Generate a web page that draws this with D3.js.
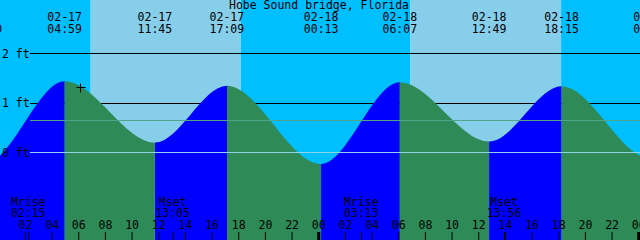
<!DOCTYPE html>
<html>
<head>
<meta charset="utf-8">
<script src="https://cdn.jsdelivr.net/npm/d3@7"></script>
<style>
  body { margin: 0; background: #fff; }
  svg { display: block; }
  text { font-family: "DejaVu Sans Mono", monospace; font-size: 11.5px; fill: #000; }
</style>
</head>
<body>
<div id="chart"></div>
<script>
// tide extremes (high / low); first and last lie off the chart
const tideTimes = ["02-16 16:50", "02-16 23:00", "02-17 04:59", "02-17 11:45", "02-17 17:09",
                   "02-18 00:13", "02-18 06:07", "02-18 12:49", "02-18 18:15", "02-19 00:55", "02-19 07:10"];
const tideLevels = [1.33, -0.22, 1.44, 0.20, 1.35, -0.23, 1.42, 0.22, 1.34, -0.12, 1.40];

const sunTimes = ["02-17 06:56", "02-17 18:12", "02-18 06:55", "02-18 18:13"]; // rise, set, rise, set
const moonTimes = ["02-17 02:15", "02-17 13:05", "02-18 03:13", "02-18 13:56"];
const moonNames = ["Mrise", "Mset", "Mrise", "Mset"];

const levelTicks = [0, 1, 2];
const meanLevel = 0.65;
const nowTime = "02-17 06:12";
const nowLevel = 1.31;

const title = "Hobe Sound bridge, Florida";

const W = 640, H = 240;
const parse = d3.timeParse("%m-%d %H:%M");
const fmtDate = d3.timeFormat("%m-%d");
const fmtTime = d3.timeFormat("%H:%M");

const start = parse("02-17 00:08");
const end = d3.timeHour.offset(start, 48);

const x = d3.scaleTime().domain([start, end]).range([0, W]);
const y = d3.scaleLinear().domain([0, 2]).range([152.5, 53.5]);
const crisp = v => Math.floor(v) + 0.5;

const tides = tideTimes.map((t, i) => ({ t: parse(t), v: tideLevels[i] }));

const svg = d3.select("#chart").append("svg")
  .attr("width", W)
  .attr("height", H);

const bg = svg.append("g");
const grid = svg.append("g");
const water = svg.append("g");
const over = svg.append("g");

// day / night background
const sun = sunTimes.map(parse);
const bounds = [start, ...sun, end];
for (let i = 0; i < bounds.length - 1; i++) {
  bg.append("rect")
    .attr("x", x(bounds[i]))
    .attr("y", 0)
    .attr("width", x(bounds[i + 1]) - x(bounds[i]))
    .attr("height", H)
    .attr("fill", i % 2 === 0 ? "#00bfff" : "#87ceeb");
}

// level lines behind the water
const lineX0 = 30;
grid.selectAll("line")
  .data(levelTicks.filter(d => d !== 0))
  .enter().append("line")
    .attr("x1", lineX0).attr("x2", W)
    .attr("y1", d => crisp(y(d))).attr("y2", d => crisp(y(d)))
    .attr("stroke", "#000")
    .attr("stroke-width", 1);

// tide curve, rising = blue, falling = green
const area = d3.area()
  .x(d => x(d.t))
  .y0(H)
  .y1(d => y(d.v))
  .curve(d3.curveMonotoneX);

const defs = svg.append("defs");
for (let i = 0; i < tides.length - 1; i++) {
  const a = tides[i], b = tides[i + 1];
  defs.append("clipPath").attr("id", "seg" + i)
    .append("rect")
      .attr("x", x(a.t))
      .attr("y", 0)
      .attr("width", x(b.t) - x(a.t))
      .attr("height", H);
  water.append("path")
    .datum(tides)
    .attr("clip-path", `url(#seg${i})`)
    .attr("d", area)
    .attr("fill", b.v > a.v ? "#0000ff" : "#2e8b57");
}

// datum and mean lines on top
over.append("line")
  .attr("x1", lineX0).attr("x2", W)
  .attr("y1", crisp(y(0))).attr("y2", crisp(y(0)))
  .attr("stroke", "#8fd3e8");
over.append("line")
  .attr("x1", lineX0).attr("x2", W)
  .attr("y1", crisp(y(meanLevel))).attr("y2", crisp(y(meanLevel)))
  .attr("stroke", "#4fa48a");

// level labels
over.selectAll(".lvlLabel")
  .data(levelTicks)
  .enter().append("text")
    .attr("x", 2)
    .attr("y", d => y(d) + 4)
    .text(d => d + " ft");

// title
over.append("text")
  .attr("x", 319)
  .attr("y", 9)
  .attr("text-anchor", "middle")
  .text(title);

// tide event labels
const ev = over.selectAll(".ev").data(tides.filter(d => x(d.t) > -40 && x(d.t) < W + 40))
  .enter().append("g")
  .attr("transform", d => `translate(${x(d.t)},0)`);
ev.filter(d => x(d.t) >= 0).append("text")
  .attr("y", 21)
  .attr("text-anchor", "middle")
  .text(d => fmtDate(d.t));
ev.append("text")
  .attr("y", 33)
  .attr("text-anchor", "middle")
  .text(d => fmtTime(d.t));

// current time marker
const nx = crisp(x(parse(nowTime))), ny = crisp(y(nowLevel));
over.append("path")
  .attr("d", `M${nx - 4},${ny}H${nx + 5}M${nx},${ny - 4}V${ny + 5}`)
  .attr("stroke", "#000");

// moon events
const moon = moonTimes.map((t, i) => ({ t: parse(t), name: moonNames[i] }));
const mg = over.selectAll(".moon").data(moon).enter().append("g")
  .attr("transform", d => `translate(${x(d.t)},0)`);
mg.append("text").attr("y", 206).attr("text-anchor", "middle").text(d => d.name);
mg.append("text").attr("y", 217).attr("text-anchor", "middle").text(d => fmtTime(d.t));
mg.append("line")
  .attr("x1", 0.5).attr("x2", 0.5)
  .attr("y1", 232).attr("y2", H)
  .attr("stroke", "#000");

// hour axis
const axis = over.append("g")
  .attr("transform", `translate(0,${H})`)
  .call(d3.axisTop(x)
    .ticks(d3.timeHour.every(2))
    .tickSize(8)
    .tickPadding(3)
    .tickFormat(d3.timeFormat("%H")));
axis.select(".domain").remove();
axis.selectAll("text")
  .attr("fill", "#000")
  .style("font-family", "'DejaVu Sans Mono', monospace")
  .style("font-size", "11.5px");
axis.selectAll(".tick line")
  .attr("stroke", "#000")
  .attr("stroke-width", d => d.getHours() === 0 ? 3 : 1);
</script>
</body>
</html>
